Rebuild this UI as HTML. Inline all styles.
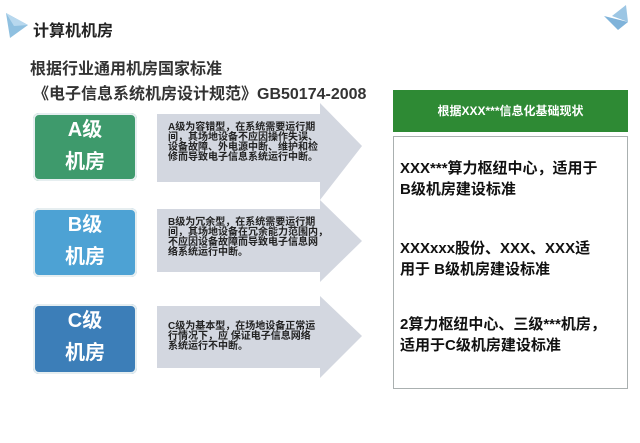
<!DOCTYPE html>
<html><head><meta charset="utf-8"><style>
body{margin:0;width:640px;height:443px;background:#fff;position:relative;overflow:hidden;font-family:"Liberation Sans","Noto Sans CJK SC",sans-serif;font-weight:bold}
.a{position:absolute}
.lv{position:absolute;left:33px;width:104px;border-radius:6px;color:#fff;font-size:20px;text-align:center;line-height:32px;box-shadow:0 0 0 2px #e6eef0 inset}
.t{position:absolute;left:168px;width:170px;font-size:10px;line-height:10px;color:#222;white-space:nowrap}
.r{position:absolute;left:400px;font-size:15px;line-height:21px;color:#111}
</style></head><body>
<svg class="a" style="left:0;top:0" width="640" height="443">
<polygon points="6,13 28,25 10,38" fill="#8fc0e0"/>
<polygon points="6,13 28,25 14,26" fill="#b8d8ee"/>
<polygon points="626,5 612,16 628,22" fill="#9cc6e4"/>
<polygon points="604,16 628,22 618,30" fill="#7fb3da"/>
<polygon points="157,114 320,114 320,103 362,146 320,200 320,182 157,182" fill="#d3d7e0"/>
<polygon points="157,209 320,209 320,200 362,241 320,282 320,272 157,272" fill="#d3d7e0"/>
<polygon points="157,306 320,306 320,296 362,336 320,378 320,368 157,368" fill="#d3d7e0"/>
<rect x="393" y="90" width="235" height="42" fill="#2e8a34"/>
<rect x="393.5" y="136.5" width="234" height="252" fill="#fff" stroke="#aab0b0"/>
</svg>
<div class="a" style="left:33px;top:17px;font-size:16px;color:#222">计算机机房</div>
<div class="a" style="left:30px;top:55px;font-size:16px;color:#333">根据行业通用机房国家标准</div>
<div class="a" style="left:33px;top:80px;font-size:16px;color:#333">《电子信息系统机房设计规范》GB50174-2008</div>
<div class="lv" style="top:113px;height:67px;background:#3e9a6c;padding-top:1px">A级<br>机房</div>
<div class="lv" style="top:208px;height:68px;background:#4da2d4;padding-top:1px">B级<br>机房</div>
<div class="lv" style="top:304px;height:69px;background:#3c7eb8;padding-top:1px">C级<br>机房</div>
<div class="t" style="top:123px">A级为容错型，在系统需要运行期<br>间，其场地设备不应因操作失误、<br>设备故障、外电源中断、维护和检<br>修而导致电子信息系统运行中断。</div>
<div class="t" style="top:218px">B级为冗余型，在系统需要运行期<br>间，其场地设备在冗余能力范围内，<br>不应因设备故障而导致电子信息网<br>络系统运行中断。</div>
<div class="t" style="top:322px">C级为基本型，在场地设备正常运<br>行情况下，应 保证电子信息网络<br>系统运行不中断。</div>
<div class="a" style="left:393px;top:102px;width:235px;text-align:center;font-size:12px;color:#fff">根据XXX***信息化基础现状</div>
<div class="r" style="top:158px">XXX***算力枢纽中心，适用于<br>B级机房建设标准</div>
<div class="r" style="top:238px">XXXxxx股份、XXX、XXX适<br>用于 B级机房建设标准</div>
<div class="r" style="top:314px">2算力枢纽中心、三级***机房，<br>适用于C级机房建设标准</div>
</body></html>
